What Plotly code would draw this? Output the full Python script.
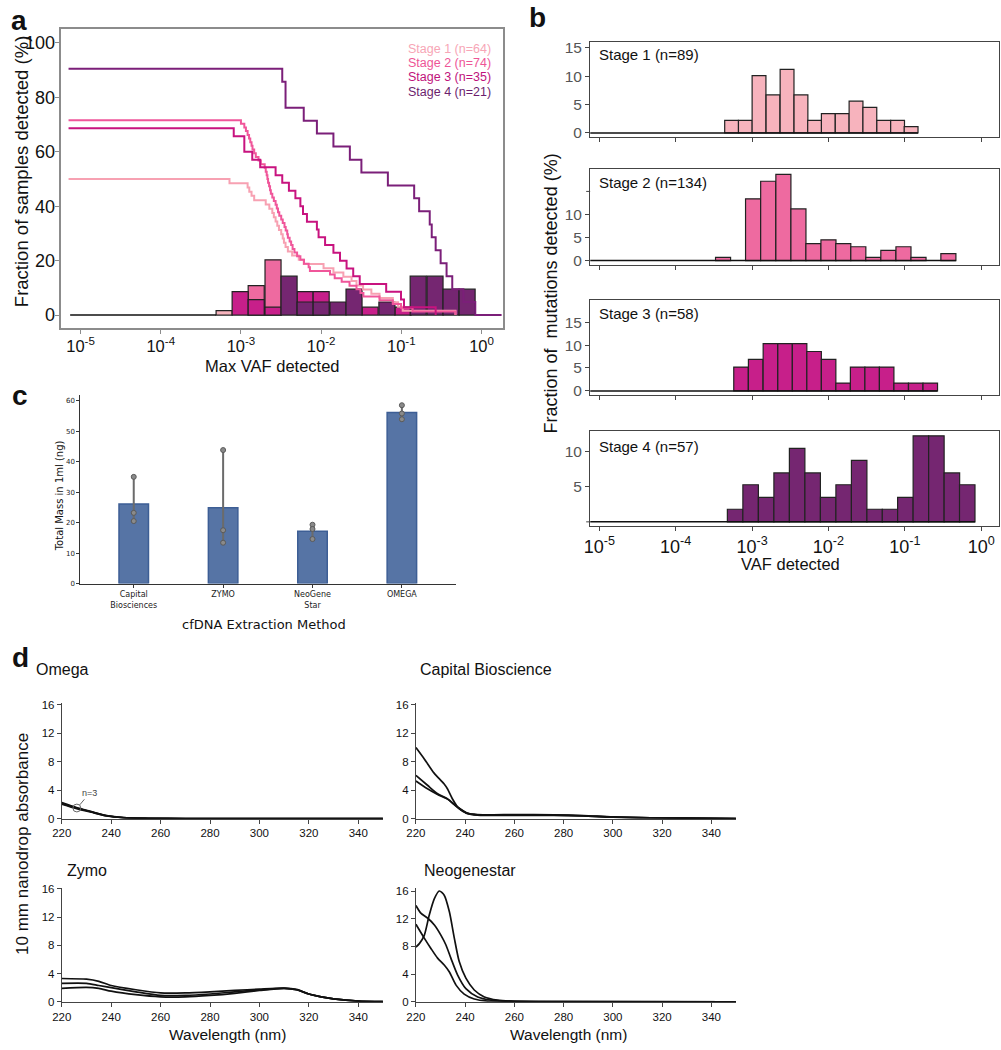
import numpy as np
import plotly.graph_objects as go

W, H = 1001, 1050
ARIAL = "Liberation Sans, Arial, Helvetica, sans-serif"
DEJAVU = "DejaVu Sans, sans-serif"

# ======================= Panel a data =======================
a_stage_names = ["Stage 1 (n=64)", "Stage 2 (n=74)", "Stage 3 (n=35)", "Stage 4 (n=21)"]
# histogram bin centres (log10 of max VAF) and % of samples per bin
a_bin_log10 = [-3.21, -3.01, -2.81, -2.60, -2.40, -2.20, -2.00, -1.79,
               -1.59, -1.39, -1.18, -0.98, -0.79, -0.58, -0.38, -0.18]
a_hist_stage1 = [1.6, 0, 0, 0, 0, 0, 0, 0, 0, 0, 0, 0, 0, 0, 0, 0]
a_hist_stage2 = [0, 0, 10.8, 20.3, 0, 0, 0, 0, 0, 0, 0, 0, 0, 0, 0, 0]
a_hist_stage3 = [0, 8.6, 5.7, 2.9, 0, 8.6, 8.6, 0, 0, 2.9, 0, 2.9, 0, 0, 0, 0]
a_hist_stage4 = [0, 0, 0, 0, 14.3, 4.8, 4.8, 4.8, 9.5, 0, 4.8, 0, 14.3, 14.3, 9.5, 9.5]

# cumulative fraction of samples detected (step curves): log10 VAF threshold, %
a_curve1_log10 = [-5.15, -3.143, -2.917, -2.896, -2.868, -2.835, -2.691, -2.646, -2.609, -2.590, -2.568,
                  -2.547, -2.526, -2.498, -2.479, -2.464, -2.444, -2.415, -2.362, -2.279, -2.217, -1.970,
                  -1.847, -1.723, -1.621, -1.559, -1.477, -1.374, -1.272, -1.106, -1.041, -0.983, -0.325]
a_curve1_pct = [50.0, 48.4, 46.9, 45.3, 43.8, 42.2, 40.6, 39.1, 37.5, 35.9, 34.4, 32.8, 31.3, 29.7, 28.1,
                26.6, 25.0, 23.4, 21.9, 20.3, 18.8, 17.2, 15.6, 14.1, 12.5, 10.9, 9.4, 7.8, 6.3, 4.7, 3.1,
                1.6, 0.0]
a_curve2_log10 = [-5.15, -3.000, -2.958, -2.938, -2.917, -2.899, -2.884, -2.868, -2.856, -2.835, -2.815,
                  -2.781, -2.753, -2.704, -2.691, -2.679, -2.670, -2.662, -2.649, -2.637, -2.627, -2.609,
                  -2.590, -2.568, -2.553, -2.538, -2.522, -2.498, -2.479, -2.457, -2.442, -2.423, -2.415,
                  -2.393, -2.374, -2.356, -2.333, -2.300, -2.259, -2.214, -2.156, -2.140, -1.889, -1.831,
                  -1.744, -1.646, -1.559, -1.510, -1.473, -1.272, -1.106, -1.004, -0.859, -0.325]
a_curve2_pct = [71.6, 70.3, 68.9, 67.6, 66.2, 64.9, 63.5, 62.2, 60.8, 59.5, 58.1, 56.8, 55.4, 54.1, 52.7,
                51.4, 50.0, 48.6, 47.3, 45.9, 44.6, 43.2, 41.9, 40.5, 39.2, 37.8, 36.5, 35.1, 33.8, 32.4,
                31.1, 29.7, 28.4, 27.0, 25.7, 24.3, 23.0, 21.6, 20.3, 18.9, 17.6, 16.2, 14.9, 13.5, 12.2,
                10.8, 9.5, 8.1, 6.8, 5.4, 4.1, 2.7, 1.35, 0.0]
a_curve3_log10 = [-5.15, -3.090, -2.958, -2.859, -2.760, -2.568, -2.485, -2.402, -2.321, -2.259, -2.226,
                  -2.177, -2.053, -2.032, -1.951, -1.847, -1.765, -1.683, -1.600, -1.519, -1.189, -1.004,
                  -0.967, -0.572]
a_curve3_pct = [68.6, 65.7, 60.0, 57.1, 54.3, 51.4, 48.6, 45.7, 42.9, 40.0, 37.1, 34.3, 31.4, 28.6, 25.7,
                22.9, 20.0, 17.1, 14.3, 11.4, 8.6, 5.7, 2.9, 0.0]
a_curve4_log10 = [-5.15, -2.485, -2.444, -2.217, -2.053, -1.847, -1.642, -1.498, -1.168, -0.840, -0.778,
                  -0.646, -0.621, -0.572, -0.510, -0.436, -0.365, -0.226, -0.078, 0.25]
a_curve4_pct = [90.5, 85.7, 76.2, 71.4, 66.7, 61.9, 57.1, 52.4, 47.6, 42.9, 38.1, 33.3, 28.6, 23.8, 19.0,
                14.3, 9.5, 4.8, 0.0, 0.0]

# ======================= Panel b data =======================
b_stage_labels = ["Stage 1 (n=89)", "Stage 2 (n=134)", "Stage 3 (n=58)", "Stage 4 (n=57)"]
b_stage1_log10 = [-3.268, -3.088, -2.909, -2.726, -2.542, -2.360, -2.181, -2.002, -1.820, -1.639,
                  -1.458, -1.276, -1.095, -0.918]
b_stage1_pct = [2.2, 2.2, 10.1, 6.7, 11.2, 6.7, 2.2, 3.4, 3.4, 5.6, 4.5, 2.2, 2.2, 1.1]
b_stage2_log10 = [-3.380, -3.183, -2.987, -2.789, -2.590, -2.393, -2.197, -2.000, -1.806, -1.609,
                  -1.413, -1.216, -1.018, -0.821, -0.627, -0.430]
b_stage2_pct = [0.7, 0, 13.4, 17.2, 18.7, 11.2, 3.7, 4.5, 3.7, 3.0, 0.7, 2.2, 3.0, 0.7, 0, 1.5]
b_stage3_log10 = [-3.145, -2.953, -2.760, -2.568, -2.378, -2.188, -1.998, -1.808, -1.618, -1.428,
                  -1.238, -1.048, -0.857, -0.667]
b_stage3_pct = [5.2, 6.9, 10.3, 10.3, 10.3, 8.6, 6.9, 1.7, 5.2, 5.2, 5.2, 1.7, 1.7, 1.7]
b_stage4_log10 = [-3.222, -3.019, -2.816, -2.613, -2.410, -2.207, -2.004, -1.801, -1.598, -1.395,
                  -1.194, -0.993, -0.790, -0.587, -0.384, -0.183]
b_stage4_pct = [1.8, 5.3, 3.5, 7.0, 10.5, 7.0, 3.5, 5.3, 8.8, 1.8, 1.8, 3.5, 12.3, 12.3, 7.0, 5.3]
b_bin_width = [0.181, 0.197, 0.190, 0.203]

log_tickvals = [-5, -4, -3, -2, -1, 0]
log_ticktext = ["10<sup>-5</sup>", "10<sup>-4</sup>", "10<sup>-3</sup>", "10<sup>-2</sup>",
                "10<sup>-1</sup>", "10<sup>0</sup>"]

# ======================= Panel c data =======================
c_methods = ["Capital<br>Biosciences", "ZYMO", "NeoGene<br>Star", "OMEGA"]
c_mass_mean = [26.1, 24.9, 17.2, 56.1]
c_mass_points = [[35.0, 23.2, 20.5], [43.8, 17.5, 13.4], [19.3, 17.9, 14.6], [58.5, 55.8, 53.9]]

# ======================= Panel d data =======================
d_titles = ["Omega", "Capital Bioscience", "Zymo", "Neogenestar"]
omega_wl = [220, 226, 232, 238, 245, 255, 270, 300, 350]
omega_abs = [[2.25, 1.55, 1.0, 0.45, 0.15, 0.06, 0.03, 0.02, 0.0],
             [2.15, 1.5, 0.95, 0.42, 0.14, 0.05, 0.03, 0.02, 0.0],
             [2.05, 1.42, 0.9, 0.4, 0.13, 0.05, 0.02, 0.01, 0.0]]
capital_wl = [[220, 223.4, 227.4, 231.4, 232.8, 234.8, 237.5, 240.8, 245, 260, 276, 288, 300, 320, 340, 350],
              [220, 224.7, 228.8, 232.8, 236.9, 240.8, 245, 260, 276, 288, 300, 320, 340, 350],
              [220, 224.7, 228.8, 232.8, 236.9, 240.8, 245, 260, 276, 288, 300, 320, 340, 350]]
capital_abs = [[10.0, 8.4, 6.4, 4.9, 4.2, 2.8, 1.4, 0.75, 0.58, 0.56, 0.55, 0.45, 0.25, 0.1, 0.05, 0.03],
               [6.1, 4.7, 3.5, 2.8, 1.65, 0.8, 0.55, 0.5, 0.5, 0.4, 0.22, 0.1, 0.05, 0.03],
               [5.3, 4.2, 3.4, 2.75, 1.6, 0.75, 0.5, 0.45, 0.45, 0.38, 0.2, 0.1, 0.05, 0.03]]
zymo_wl = [220, 230, 235, 240, 250, 260, 270, 280, 290, 300, 310, 315, 320, 325, 330, 340, 350]
zymo_abs = [[3.3, 3.2, 2.9, 2.3, 1.7, 1.25, 1.25, 1.4, 1.6, 1.8, 1.95, 1.75, 1.1, 0.7, 0.42, 0.1, 0.02],
            [2.6, 2.6, 2.3, 2.0, 1.4, 0.9, 0.9, 1.1, 1.4, 1.7, 1.9, 1.7, 1.1, 0.7, 0.42, 0.1, 0.02],
            [1.9, 2.05, 1.9, 1.5, 1.0, 0.7, 0.7, 0.9, 1.2, 1.6, 1.9, 1.7, 1.1, 0.7, 0.42, 0.1, 0.02]]
neo_wl = [[220, 221.4, 223.4, 225.4, 227.5, 229.5, 231.5, 233.6, 235.6, 237.6, 240.3, 243.7, 247.8, 253.2, 258.6, 270, 350],
          [220, 222, 224.7, 227.5, 230.2, 232.2, 234.2, 236.9, 240.3, 245.1, 250.5, 255.9, 270, 350],
          [220, 223.4, 226.1, 228.8, 231.5, 233.6, 236.3, 239.6, 243.7, 249.1, 260, 350]]
neo_abs = [[7.9, 8.4, 9.6, 12.5, 14.9, 16.0, 15.4, 13.0, 9.2, 5.8, 3.4, 1.7, 0.7, 0.24, 0.1, 0.03, 0.0],
           [13.9, 12.8, 12.1, 11.1, 9.6, 8.2, 6.3, 3.9, 1.9, 0.7, 0.24, 0.1, 0.03, 0.0],
           [11.2, 9.2, 7.7, 6.3, 5.3, 4.3, 2.4, 1.1, 0.4, 0.1, 0.03, 0.0]]

# ======================= styling =======================
fill_cols = ["#F7B3BD", "#EE6AA0", "#C71F8A", "#752671"]
line_cols = ["#F7A1B2", "#F0569A", "#C8137F", "#7B1F79"]
legend_cols = ["#F7A6B6", "#EE5596", "#C0127C", "#6C1E6E"]


def px(x):
    return x / W


def py(y):
    return 1 - y / H


fig = go.Figure()
layout = dict(width=W, height=H, autosize=False, margin=dict(l=0, r=0, t=0, b=0),
              paper_bgcolor="white", plot_bgcolor="white", showlegend=False,
              barmode="overlay", font=dict(family=ARIAL, color="#111"))
annotations = []


def txt(x, y, s, size, color="#111", xanchor="center", yanchor="middle", angle=0, family=ARIAL):
    annotations.append(dict(x=px(x), y=py(y), xref="paper", yref="paper", text=s, showarrow=False,
                            font=dict(size=size, color=color, family=family), xanchor=xanchor,
                            yanchor=yanchor, textangle=angle, borderpad=0))


# ---------------- Panel a ----------------
frame_a = dict(showline=True, mirror=True, linecolor="#8c8c8c", linewidth=1.5, ticks="outside",
               ticklen=5, tickcolor="#8c8c8c", showgrid=False, zeroline=False)
layout["xaxis"] = dict(domain=[px(52), px(498)], range=[-5.238, 0.268], anchor="y",
                       tickvals=log_tickvals, ticktext=log_ticktext, tickfont=dict(size=16.5, color="#111"),
                       ticklabelstandoff=-2, **frame_a)
layout["yaxis"] = dict(domain=[py(326), py(24)], range=[-4.6, 105.2], anchor="x",
                       tickvals=[0, 20, 40, 60, 80, 100], tickfont=dict(size=18, color="#111"),
                       ticklabelstandoff=-4, **frame_a)

fig.add_trace(go.Scatter(x=[-5.13, a_bin_log10[0] - 0.1], y=[0, 0], mode="lines",
                         line=dict(color="#111", width=1.5), xaxis="x", yaxis="y"))
for hist, col in zip([a_hist_stage1, a_hist_stage2, a_hist_stage3, a_hist_stage4], fill_cols):
    xs = [c for c, v in zip(a_bin_log10, hist) if v > 0]
    ys = [v for v in hist if v > 0]
    fig.add_trace(go.Bar(x=xs, y=ys, width=0.2, marker=dict(color=col, line=dict(color="#222", width=1.2)),
                         xaxis="x", yaxis="y"))
for cx, cy, col in zip([a_curve1_log10, a_curve2_log10, a_curve3_log10, a_curve4_log10],
                       [a_curve1_pct, a_curve2_pct, a_curve3_pct, a_curve4_pct], line_cols):
    fig.add_trace(go.Scatter(x=cx, y=cy, mode="lines", line=dict(color=col, width=2, shape="hv"),
                             xaxis="x", yaxis="y"))

for i, (name, col) in enumerate(zip(a_stage_names, legend_cols)):
    txt(487, 44 + 14.5 * i, name, 12.5, color=col, xanchor="right")
txt(11, 168, "Fraction of samples detected (%)", 18.5, angle=-90)
txt(265, 365, "Max VAF detected", 16.5)

# ---------------- Panel b ----------------
b_frames = [(37.3, 133.3), (166, 262.7), (298.3, 394.3), (430.7, 526.7)]
b_yranges = [[-0.7, 16.05], [-0.94, 19.8], [-0.93, 19.8], [-0.62, 12.96]]
b_yticks = [([0, 5, 10, 15], ["0", "5", "10", "15"]), ([0, 5, 10], ["0", "5", "10"]),
            ([0, 5, 10, 15], ["0", "5", "10", "15"]), ([5, 10], ["5", "10"])]
b_x = [b_stage1_log10, b_stage2_log10, b_stage3_log10, b_stage4_log10]
b_y = [b_stage1_pct, b_stage2_pct, b_stage3_pct, b_stage4_pct]
frame_b = dict(showline=True, mirror=True, linecolor="#444", linewidth=1.3, ticks="outside",
               ticklen=4, tickcolor="#444", showgrid=False, zeroline=False)
for i in range(4):
    n = i + 2
    top, bot = b_frames[i]
    xa = dict(domain=[px(586), px(999)], range=[-5.12, 0.233], anchor=f"y{n}",
              tickvals=log_tickvals, tickfont=dict(size=18, color="#111"), **frame_b)
    if i == 3:
        xa["ticktext"] = log_ticktext
    else:
        xa["showticklabels"] = False
    layout[f"xaxis{n}"] = xa
    layout[f"yaxis{n}"] = dict(domain=[py(bot), py(top)], range=b_yranges[i], anchor=f"x{n}",
                               tickvals=b_yticks[i][0], ticktext=b_yticks[i][1],
                               tickfont=dict(size=15.5, color="#555"), **frame_b)
    w = b_bin_width[i]
    last_edge = b_x[i][-1] + w / 2
    fig.add_trace(go.Scatter(x=[-5.12, last_edge], y=[0, 0], mode="lines",
                             line=dict(color="#111", width=1.5), xaxis=f"x{n}", yaxis=f"y{n}"))
    xs = [c for c, v in zip(b_x[i], b_y[i]) if v > 0]
    ys = [v for v in b_y[i] if v > 0]
    fig.add_trace(go.Bar(x=xs, y=ys, width=w,
                         marker=dict(color=fill_cols[i], line=dict(color="#222", width=1.2)),
                         xaxis=f"x{n}", yaxis=f"y{n}"))
    txt(594, top + 13 if i != 3 else top + 15, b_stage_labels[i], 15, xanchor="left")

# unlabelled extra tick marks (15 on stage 2, 0 on stage 4) drawn as short segments
extra_ticks = [("y3", 15), ("y5", 0)]
shapes = []
for yref, val in extra_ticks:
    shapes.append(dict(type="line", xref="paper", yref=yref, x0=px(582), x1=px(586), y0=val, y1=val,
                       line=dict(color="#444", width=1)))

txt(546, 292, "Fraction of  mutations detected (%)", 18, angle=-90)
txt(788, 565, "VAF detected", 16.5)

# ---------------- Panel c ----------------
axis_c = dict(showline=True, linecolor="#333", linewidth=1, ticks="outside", ticklen=3,
              tickcolor="#333", showgrid=False, zeroline=False, mirror=False)
layout["xaxis6"] = dict(domain=[px(71), px(450)], range=[-0.598, 3.6], anchor="y6",
                        tickvals=[0, 1, 2, 3], ticktext=c_methods,
                        tickfont=dict(size=8, family=DEJAVU, color="#222"), **axis_c)
layout["yaxis6"] = dict(domain=[py(584.7), py(394)], range=[0, 61.9], anchor="x6",
                        tickvals=[0, 10, 20, 30, 40, 50, 60],
                        tickfont=dict(size=7, family=DEJAVU, color="#222"), **axis_c)
pts = [np.array(p) for p in c_mass_points]
fig.add_trace(go.Bar(x=[0, 1, 2, 3], y=c_mass_mean, width=0.33,
                     marker=dict(color="#5674A5", line=dict(color="#3D5E95", width=1.5)),
                     error_y=dict(type="data", symmetric=False,
                                  array=[p.max() - m for p, m in zip(pts, c_mass_mean)],
                                  arrayminus=[m - p.min() for p, m in zip(pts, c_mass_mean)],
                                  color="#6b6b6b", thickness=2, width=0),
                     xaxis="x6", yaxis="y6"))
fig.add_trace(go.Scatter(x=[i for i, p in enumerate(c_mass_points) for _ in p],
                         y=[v for p in c_mass_points for v in p], mode="markers",
                         marker=dict(size=5, color="#8a8a8a", line=dict(color="#5a5a5a", width=1)),
                         xaxis="x6", yaxis="y6"))
txt(50, 496, "Total Mass in 1ml (ng)", 10, angle=-90, family=DEJAVU)
txt(257, 626, "cfDNA Extraction Method", 13, family=DEJAVU)

# ---------------- Panel d ----------------
axis_d = dict(showline=True, linecolor="#444", linewidth=1, ticks="outside", ticklen=4,
              tickcolor="#444", showgrid=False, zeroline=False, mirror=False,
              tickfont=dict(size=11.5, color="#111"))
d_xdom = [[52.3, 376.7], [410, 733.3], [52.3, 376.7], [410, 733.3]]
d_ydom = [[705.8, 822.3], [705.8, 822.3], [891.9, 1007.3], [891.9, 1007.3]]
d_yr = [[0, 16.2], [0, 16.2], [0, 16.2], [0, 16.5]]
for i in range(4):
    n = i + 7
    layout[f"xaxis{n}"] = dict(domain=[px(d_xdom[i][0]), px(d_xdom[i][1])], range=[220, 350],
                               anchor=f"y{n}", tickvals=[220, 240, 260, 280, 300, 320, 340], **axis_d)
    layout[f"yaxis{n}"] = dict(domain=[py(d_ydom[i][1]), py(d_ydom[i][0])], range=d_yr[i],
                               anchor=f"x{n}", tickvals=[0, 4, 8, 12, 16], **axis_d)

d_series = [([omega_wl] * 3, omega_abs), (capital_wl, capital_abs), ([zymo_wl] * 3, zymo_abs),
            (neo_wl, neo_abs)]
for i, (wls, abss) in enumerate(d_series):
    n = i + 7
    for wl, ab in zip(wls, abss):
        fig.add_trace(go.Scatter(x=wl, y=ab, mode="lines",
                                 line=dict(color="#111", width=1.7, shape="spline", smoothing=0.7),
                                 xaxis=f"x{n}", yaxis=f"y{n}"))

txt(25, 672, d_titles[0], 16, xanchor="left")
txt(413, 672, d_titles[1], 16, xanchor="left")
txt(57, 875, d_titles[2], 16, xanchor="left")
txt(417, 875, d_titles[3], 16, xanchor="left")
txt(12, 848, "10 mm nanodrop absorbance", 17, angle=-90)
txt(220, 1040, "Wavelength (nm)", 15.5)
txt(564, 1040, "Wavelength (nm)", 15.5)

shapes.append(dict(type="circle", xref="x7", yref="y7", x0=224.5, x1=227.7, y0=0.95, y1=2.05,
                   line=dict(color="#666", width=1)))
annotations.append(dict(x=227.3, y=1.95, xref="x7", yref="y7", text="n=3", showarrow=True,
                        arrowhead=0, arrowwidth=1, arrowcolor="#666", ax=10, ay=-12,
                        font=dict(size=9, color="#444", family=ARIAL)))

# ---------------- panel letters ----------------
txt(9, 16, "<b>a</b>", 28)
txt(533, 13, "<b>b</b>", 28)
txt(10, 395, "<b>c</b>", 28)
txt(11, 659, "<b>d</b>", 28)

layout["annotations"] = annotations
layout["shapes"] = shapes
fig.update_layout(**layout)
fig.write_html("out.html", config={"displayModeBar": False},
               post_script="document.body.style.margin='0px';document.body.style.overflow='hidden';")
